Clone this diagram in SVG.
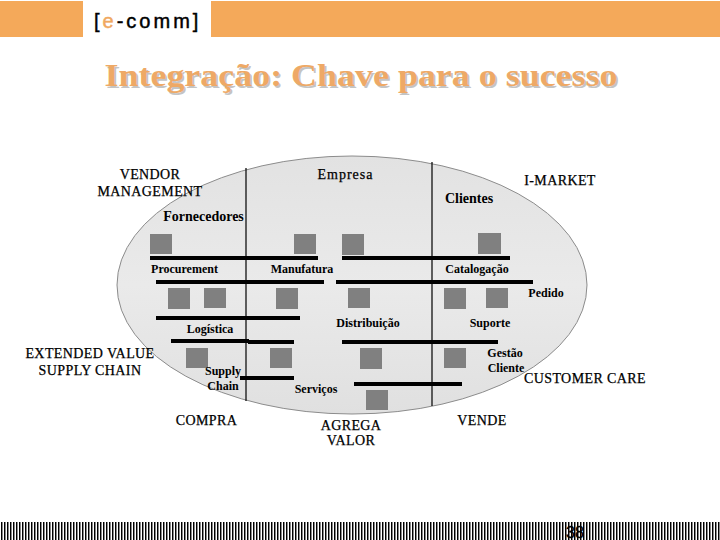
<svg xmlns="http://www.w3.org/2000/svg" width="720" height="540" viewBox="0 0 720 540">
<style>
.b{fill:#000}
.sq{fill:#808080}
.h{fill:#f4a95a}
text{font-family:"Liberation Serif","Times New Roman",serif;fill:#000}
.big{font-size:14px;text-anchor:middle;letter-spacing:.4px;stroke:#000;stroke-width:.25px}
.sm{font-size:12px;font-weight:bold;text-anchor:middle}
.mid{font-size:14px;font-weight:bold;text-anchor:middle}
.div{stroke:#000;stroke-width:1.2;fill:none}
</style>
<defs>
<linearGradient id="g" x1="0" y1="0" x2="0" y2="1"><stop offset="0" stop-color="#e2e2e2"/><stop offset=".5" stop-color="#eaeaea"/><stop offset="1" stop-color="#e0e0e0"/></linearGradient>
<pattern id="st" width="3" height="18" patternUnits="userSpaceOnUse" x="1" y="522"><rect width="3" height="18" fill="#fff"/><rect width="1" height="18" fill="#000"/><rect x="1" width="1" height="18" fill="#888"/></pattern>
</defs>
<rect width="720" height="540" fill="#fff"/>
<g id="header">
<rect class="h" x="0" y="1" width="83" height="36"/>
<rect class="h" x="211" y="1" width="509" height="36"/>
<text x="94" y="28" style="font-family:'Liberation Sans',Arial,sans-serif;font-size:20px;letter-spacing:3px;stroke:#000;stroke-width:.45px">[<tspan fill="#f0a860" stroke="#f0a860">e</tspan>-comm]</text>
</g>
<text id="title" x="361" y="86" text-anchor="middle" textLength="513" lengthAdjust="spacingAndGlyphs" style="font-size:32px;font-weight:bold;fill:#eea966;text-shadow:1.5px 1.5px 0 #c4c4c4">Integração: Chave para o sucesso</text>
<g id="ellipse"><ellipse cx="352" cy="285" rx="235" ry="129" fill="url(#g)" stroke="#8c8c8c" stroke-width="1"/></g>
<g id="connectors">
<path class="div" d="M246 168V401M432 162V406"/>
<rect class="b" x="150" y="256" width="168" height="4"/>
<rect class="b" x="342" y="256" width="168" height="4"/>
<rect class="b" x="156" y="280" width="168" height="4"/>
<rect class="b" x="336" y="280" width="197" height="4"/>
<rect class="b" x="156" y="316" width="144" height="4"/>
<rect class="b" x="171" y="339" width="78" height="4"/>
<rect class="b" x="248" y="340" width="46" height="4"/>
<rect class="b" x="342" y="340" width="156" height="4"/>
<rect class="b" x="240" y="376" width="54" height="4"/>
<rect class="b" x="354" y="382" width="108" height="4"/>
</g>
<g id="squares">
<rect class="sq" x="150" y="234" width="22" height="20"/>
<rect class="sq" x="294" y="234" width="22" height="20"/>
<rect class="sq" x="342" y="234" width="22" height="21"/>
<rect class="sq" x="478" y="233" width="23" height="21"/>
<rect class="sq" x="168" y="288" width="22" height="21"/>
<rect class="sq" x="204" y="288" width="22" height="20"/>
<rect class="sq" x="276" y="288" width="22" height="21"/>
<rect class="sq" x="348" y="288" width="22" height="20"/>
<rect class="sq" x="444" y="288" width="22" height="21"/>
<rect class="sq" x="486" y="288" width="22" height="20"/>
<rect class="sq" x="186" y="348" width="22" height="20"/>
<rect class="sq" x="270" y="348" width="22" height="20"/>
<rect class="sq" x="360" y="348" width="22" height="21"/>
<rect class="sq" x="444" y="348" width="22" height="20"/>
<rect class="sq" x="366" y="390" width="22" height="20"/>
</g>
<g id="labels">
<text class="big" x="150" y="179">VENDOR</text>
<text class="big" x="150" y="196">MANAGEMENT</text>
<text class="big" x="345.500" y="179" style="letter-spacing:1px">Empresa</text>
<text class="big" x="560" y="185">I-MARKET</text>
<text class="mid" x="469" y="203">Clientes</text>
<text class="mid" x="203.500" y="221">Fornecedores</text>
<text class="sm" x="184.500" y="273">Procurement</text>
<text class="sm" x="302" y="273">Manufatura</text>
<text class="sm" x="477" y="273">Catalogação</text>
<text class="sm" x="546" y="297">Pedido</text>
<text class="sm" x="210" y="333">Logística</text>
<text class="sm" x="368" y="327">Distribuição</text>
<text class="sm" x="490" y="327">Suporte</text>
<text class="sm" x="505" y="357">Gestão</text>
<text class="sm" x="506" y="372">Cliente</text>
<text class="sm" x="223" y="375">Supply</text>
<text class="sm" x="223" y="390">Chain</text>
<text class="sm" x="316" y="393">Serviços</text>
<text class="big" x="90" y="358">EXTENDED VALUE</text>
<text class="big" x="90" y="375">SUPPLY CHAIN</text>
<text class="big" x="585" y="383">CUSTOMER CARE</text>
<text class="big" x="206.500" y="425">COMPRA</text>
<text class="big" x="351" y="430">AGREGA</text>
<text class="big" x="351" y="445">VALOR</text>
<text class="big" x="482" y="425">VENDE</text>
</g>
<g id="footer">
<rect x="1" y="522" width="719" height="18" fill="url(#st)"/>
<text x="575" y="538" text-anchor="middle" style="font-family:'Liberation Sans',Arial,sans-serif;font-size:16px;stroke:#000;stroke-width:.3px">38</text>
</g>
</svg>
